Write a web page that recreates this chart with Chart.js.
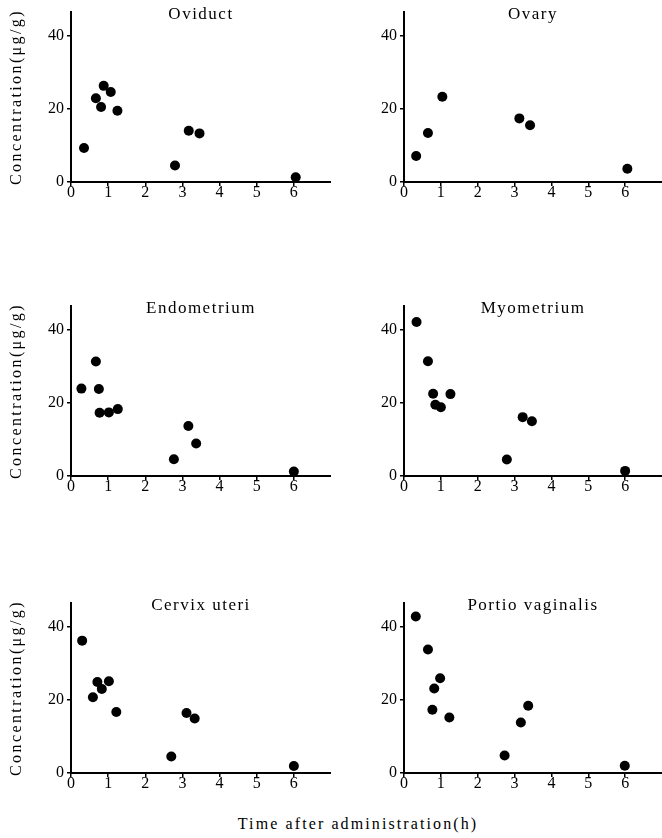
<!DOCTYPE html>
<html>
<head>
<meta charset="utf-8">
<script src="https://cdn.jsdelivr.net/npm/chart.js@4.4.1/dist/chart.umd.min.js"></script>
<style>
  body { margin: 0; background: #fff; }
  #wrap { position: relative; width: 662px; height: 838px; }
  canvas { position: absolute; }
  #xlabel {
    position: absolute; left: 0; width: 716px; top: 815px; text-align: center;
    font: 16px "Liberation Serif", serif; letter-spacing: 2.1px; color: #000;
  }
</style>
</head>
<body>
<div id="wrap">
  <canvas id="c0" width="331" height="210" style="left:0;top:0"></canvas>
  <canvas id="c1" width="331" height="210" style="left:331px;top:0"></canvas>
  <canvas id="c2" width="331" height="210" style="left:0;top:294px"></canvas>
  <canvas id="c3" width="331" height="210" style="left:331px;top:294px"></canvas>
  <canvas id="c4" width="331" height="210" style="left:0;top:591px"></canvas>
  <canvas id="c5" width="331" height="210" style="left:331px;top:591px"></canvas>
  <div id="xlabel">Time after administration(h)</div>
</div>
<script>
// time after administration (h) and concentration (ug/g)
const oviductTime = [0.35, 0.67, 0.81, 0.88, 1.07, 1.25, 2.8, 3.17, 3.46, 6.05];
const oviductConc = [9.3, 22.9, 20.5, 26.3, 24.6, 19.5, 4.5, 14.0, 13.3, 1.3];

const ovaryTime = [0.33, 0.65, 1.04, 3.13, 3.42, 6.06];
const ovaryConc = [7.1, 13.4, 23.3, 17.4, 15.5, 3.6];

const endometriumTime = [0.28, 0.67, 0.75, 0.77, 1.02, 1.26, 2.77, 3.16, 3.37, 6.0];
const endometriumConc = [23.9, 31.3, 23.8, 17.3, 17.4, 18.3, 4.6, 13.7, 8.9, 1.2];

const myometriumTime = [0.34, 0.65, 0.79, 0.85, 1.0, 1.26, 2.79, 3.22, 3.47, 6.0];
const myometriumConc = [42.1, 31.4, 22.5, 19.5, 18.8, 22.4, 4.5, 16.1, 15.0, 1.4];

const cervixTime = [0.3, 0.59, 0.71, 0.83, 1.02, 1.22, 2.7, 3.11, 3.33, 6.0];
const cervixConc = [36.2, 20.7, 24.9, 23.0, 25.1, 16.7, 4.5, 16.4, 14.9, 1.9];

const portioTime = [0.32, 0.65, 0.82, 0.98, 0.77, 1.23, 2.73, 3.17, 3.37, 5.99];
const portioConc = [42.8, 33.8, 23.1, 25.9, 17.3, 15.2, 4.8, 13.8, 18.4, 2.0];

const panelTitles = ['Oviduct', 'Ovary', 'Endometrium', 'Myometrium', 'Cervix uteri', 'Portio vaginalis'];
const panelTimes = [oviductTime, ovaryTime, endometriumTime, myometriumTime, cervixTime, portioTime];
const panelConcs = [oviductConc, ovaryConc, endometriumConc, myometriumConc, cervixConc, portioConc];
const yTitle = 'Concentration(\u03bcg/g)';

const serif = '"Liberation Serif", "DejaVu Serif", serif';

// panel name inside the plot area + rotated y title for the left column
const panelText = {
  id: 'panelText',
  afterDraw(chart, args, opts) {
    const ctx = chart.ctx, a = chart.chartArea;
    ctx.save();
    ctx.fillStyle = '#000';
    ctx.font = '17px ' + serif;
    ctx.letterSpacing = '1.5px';
    ctx.textAlign = 'center';
    ctx.textBaseline = 'top';
    ctx.fillText(opts.title, (a.left + a.right) / 2, a.top - 6);
    if (opts.yTitle) {
      ctx.translate(17, (a.top + a.bottom) / 2);
      ctx.rotate(-Math.PI / 2);
      ctx.font = '16px ' + serif;
      ctx.letterSpacing = '2.4px';
      ctx.textBaseline = 'middle';
      ctx.fillText(opts.yTitle, 0, 0);
    }
    ctx.restore();
  }
};

panelTitles.forEach((title, i) => {
  const leftCol = i % 2 === 0;
  const pts = panelTimes[i].map((t, k) => ({ x: t, y: panelConcs[i][k] }));
  new Chart(document.getElementById('c' + i), {
    type: 'scatter',
    data: {
      datasets: [{
        data: pts,
        pointRadius: 5,
        pointHoverRadius: 5,
        backgroundColor: '#000',
        borderColor: '#000',
        borderWidth: 0,
        clip: false
      }]
    },
    plugins: [panelText],
    options: {
      responsive: false,
      animation: false,
      devicePixelRatio: 1,
      layout: { autoPadding: false, padding: { top: 12, right: 0, bottom: 0, left: 0 } },
      plugins: {
        legend: { display: false },
        tooltip: { enabled: false },
        panelText: { title: title, yTitle: leftCol ? yTitle : null }
      },
      scales: {
        x: {
          type: 'linear',
          min: 0, max: 7,
          afterBuildTicks: s => { s.ticks = s.ticks.filter(t => t.value <= 6); },
          afterFit: s => { s.height = 28; s.paddingRight = 0; s.paddingLeft = 0; },
          ticks: { stepSize: 1, color: '#000', padding: -3, font: { family: serif, size: 16 } },
          grid: { drawOnChartArea: false, drawTicks: true, tickLength: 4, color: '#000', lineWidth: 1.5 },
          border: { display: true, color: '#000', width: 2 }
        },
        y: {
          min: 0, max: 46.5,
          afterFit: s => { s.width = leftCol ? 71 : 73; s.paddingTop = 0; s.paddingBottom = 0; },
          ticks: { stepSize: 20, includeBounds: false, color: '#000', padding: 3, font: { family: serif, size: 16 } },
          grid: { drawOnChartArea: false, drawTicks: true, tickLength: 4, color: '#000', lineWidth: 1.5 },
          border: { display: true, color: '#000', width: 2 }
        }
      }
    }
  });
});
</script>
</body>
</html>
